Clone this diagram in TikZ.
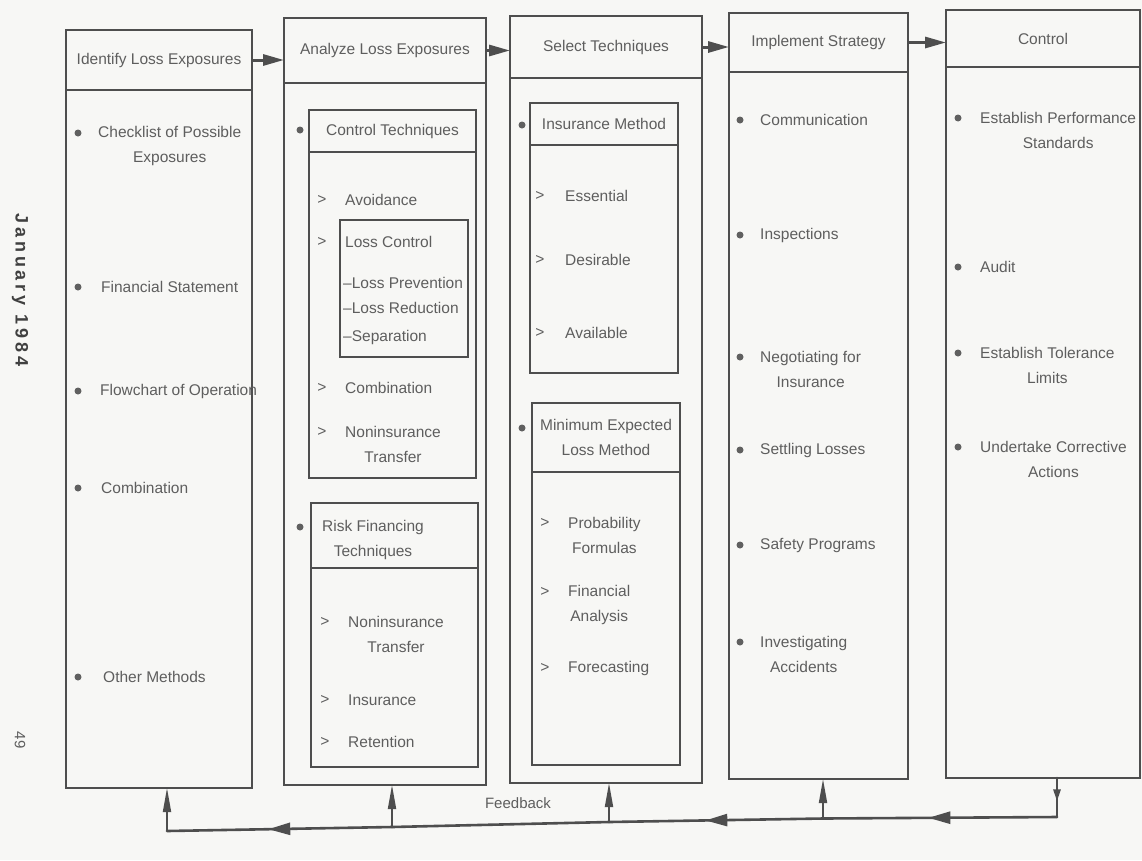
\documentclass[tikz,border=0pt]{standalone}
\usepackage{fontspec}
\setmainfont{Liberation Sans}
\newfontfamily\sidefont[LetterSpace=22,BoldFont={Liberation Sans Bold}]{Liberation Sans}
\usetikzlibrary{arrows.meta,decorations.markings}
\definecolor{linec}{HTML}{4E4E4E}
\definecolor{textc}{HTML}{5E5E5E}
\definecolor{bgc}{HTML}{F7F7F5}
\newcommand\fs{\fontsize{15.5}{25}\selectfont}
\tikzset{
  frame/.style={draw=linec, line width=2.2pt, anchor=north west, inner sep=0pt, outer sep=0pt, text=textc, font=\fs, align=center},
  txt/.style={text=textc, font=\fs, inner sep=0pt, anchor=west, align=center},
  bul/.style={circle, fill=linec!90, inner sep=0pt, minimum size=7pt},
  gt/.style={text=textc, font=\fs, inner sep=0pt},
  harr/.style={draw=linec, line width=3pt, -{Triangle[length=21pt,width=11pt]}},
  fbl/.style={draw=linec, line width=2.6pt, line cap=round},
  fbup/.style={draw=linec, line width=1.8pt, -{Triangle[length=24pt,width=8pt]}},
  midarrow/.style={postaction={decorate}, decoration={markings, mark=at position 0.55 with {\arrow{Triangle[length=22pt,width=12pt]}}}},
  middown/.style={postaction={decorate}, decoration={markings, mark=at position 0.6 with {\arrow{Triangle[length=12pt,width=7pt]}}}}
}
\begin{document}
\begin{tikzpicture}[x=1pt,y=-1pt]
\fill[bgc] (0,0) rectangle (1142,860);
\useasboundingbox (0,0) rectangle (1142,860);

% side labels
\node[rotate=-90, text=black!75, font=\sidefont\bfseries\fontsize{18}{20}\selectfont, inner sep=0pt] (date) at (20,290) {January 1984};
\node[rotate=-90, text=textc, font=\fontsize{15}{18}\selectfont, inner sep=0pt] (page) at (20,740) {49};

% column 1
\node[frame, minimum width=186pt, minimum height=60pt] (h1) at (66,30) {Identify Loss Exposures};
\node[frame, minimum width=186pt, minimum height=698pt] (b1) at (66,90) {};
\node[bul] (u11) at (78,133) {};
\node[txt] (t11) at (98,145.5) {Checklist of Possible\\Exposures};
\node[bul] (u12) at (78,287) {};
\node[txt] (t12) at (101,287) {Financial Statement};
\node[bul] (u13) at (78,391) {};
\node[txt] (t13) at (100,391) {Flowchart of Operation};
\node[bul] (u14) at (78,488) {};
\node[txt] (t14) at (101,488) {Combination};
\node[bul] (u15) at (78,677) {};
\node[txt] (t15) at (103,677) {Other Methods};

% column 2
\node[frame, minimum width=202pt, minimum height=65pt] (h2) at (284,18) {Analyze Loss Exposures};
\node[frame, minimum width=202pt, minimum height=702pt] (b2) at (284,83) {};
\node[frame, minimum width=167pt, minimum height=42pt] (cth) at (309,110) {Control Techniques};
\node[frame, minimum width=167pt, minimum height=326pt] (ctb) at (309,152) {};
\node[bul] (u21) at (300,130) {};
\node[gt] (g21) at (322,200) {>};
\node[txt] (t21) at (345,200) {Avoidance};
\node[frame, minimum width=128pt, minimum height=137pt] (lc) at (340,220) {};
\node[gt] (g22) at (322,242) {>};
\node[txt] (t22) at (345,242) {Loss Control};
\node[txt] (t23) at (343,283) {–Loss Prevention};
\node[txt] (t24) at (343,308) {–Loss Reduction};
\node[txt] (t25) at (343,337) {–Separation};
\node[gt] (g23) at (322,388) {>};
\node[txt] (t26) at (345,388) {Combination};
\node[gt] (g24) at (322,432) {>};
\node[txt] (t27) at (345,444.5) {Noninsurance\\Transfer};
\node[frame, minimum width=167pt, minimum height=65pt] (rfh) at (311,503) {};
\node[frame, minimum width=167pt, minimum height=199pt] (rfb) at (311,568) {};
\node[bul] (u22) at (300,527) {};
\node[txt] (t28) at (322,539.5) {Risk Financing\\Techniques};
\node[gt] (g25) at (325,622) {>};
\node[txt] (t29) at (348,634.5) {Noninsurance\\Transfer};
\node[gt] (g26) at (325,700) {>};
\node[txt] (t2a) at (348,700) {Insurance};
\node[gt] (g27) at (325,742) {>};
\node[txt] (t2b) at (348,742) {Retention};

% column 3
\node[frame, minimum width=192pt, minimum height=62pt] (h3) at (510,16) {Select Techniques};
\node[frame, minimum width=192pt, minimum height=705pt] (b3) at (510,78) {};
\node[frame, minimum width=148pt, minimum height=42pt] (imh) at (530,103) {Insurance Method};
\node[frame, minimum width=148pt, minimum height=228pt] (imb) at (530,145) {};
\node[bul] (u31) at (522,125) {};
\node[gt] (g31) at (540,196) {>};
\node[txt] (t31) at (565,196) {Essential};
\node[gt] (g32) at (540,260) {>};
\node[txt] (t32) at (565,260) {Desirable};
\node[gt] (g33) at (540,333) {>};
\node[txt] (t33) at (565,333) {Available};
\node[frame, minimum width=148pt, minimum height=69pt] (meh) at (532,403) {Minimum Expected\\Loss Method};
\node[frame, minimum width=148pt, minimum height=293pt] (meb) at (532,472) {};
\node[bul] (u32) at (522,428) {};
\node[gt] (g34) at (545,523) {>};
\node[txt] (t34) at (568,535.5) {Probability\\Formulas};
\node[gt] (g35) at (545,592) {>};
\node[txt] (t35) at (568,604.5) {Financial\\Analysis};
\node[gt] (g36) at (545,668) {>};
\node[txt] (t36) at (568,668) {Forecasting};

% column 4
\node[frame, minimum width=179pt, minimum height=59pt] (h4) at (729,13) {Implement Strategy};
\node[frame, minimum width=179pt, minimum height=707pt] (b4) at (729,72) {};
\node[bul] (u41) at (740,120) {};
\node[txt] (t41) at (760,120) {Communication};
\node[bul] (u42) at (740,235) {};
\node[txt] (t42) at (760,235) {Inspections};
\node[bul] (u43) at (740,357) {};
\node[txt] (t43) at (760,369) {Negotiating for\\Insurance};
\node[bul] (u44) at (740,450) {};
\node[txt] (t44) at (760,450) {Settling Losses};
\node[bul] (u45) at (740,545) {};
\node[txt] (t45) at (760,545) {Safety Programs};
\node[bul] (u46) at (740,642) {};
\node[txt] (t46) at (760,654) {Investigating\\Accidents};

% column 5
\node[frame, minimum width=194pt, minimum height=57pt] (h5) at (946,10) {Control};
\node[frame, minimum width=194pt, minimum height=711pt] (b5) at (946,67) {};
\node[bul] (u51) at (958,118) {};
\node[txt] (t51) at (980,130.5) {Establish Performance\\Standards};
\node[bul] (u52) at (958,267) {};
\node[txt] (t52) at (980,267) {Audit};
\node[bul] (u53) at (958,353) {};
\node[txt] (t53) at (980,365.5) {Establish Tolerance\\Limits};
\node[bul] (u54) at (958,447) {};
\node[txt] (t54) at (980,459) {Undertake Corrective\\Actions};

% header arrows
\draw[harr] (h1.east) -- (h1.east -| h2.west);
\draw[harr] (h2.east) -- (h2.east -| h3.west);
\draw[harr] (h3.east) -- (h3.east -| h4.west);
\draw[harr] (h4.east) -- (h4.east -| h5.west);

% feedback loop
\coordinate (f5) at (1057,817);
\coordinate (f4) at (823,818.5);
\coordinate (f3) at (609,822);
\coordinate (f2) at (392,827);
\coordinate (f1) at (167,831);
\draw[fbl, middown] (f5 |- b5.south) -- (f5);
\draw[fbl, midarrow] (f5) -- (f4);
\draw[fbl, midarrow] (f4) -- (f3);
\draw[fbl] (f3) -- (f2);
\draw[fbl, midarrow] (f2) -- (f1);
\draw[fbup] (f1) -- (f1 |- b1.south);
\draw[fbup] (f2) -- (f2 |- b2.south);
\draw[fbup] (f3) -- (f3 |- b3.south);
\draw[fbup] (f4) -- (f4 |- b4.south);
\node[text=textc, font=\fontsize{15}{17}\selectfont, inner sep=0pt] (fbt) at (518,803) {Feedback};
\end{tikzpicture}
\end{document}
